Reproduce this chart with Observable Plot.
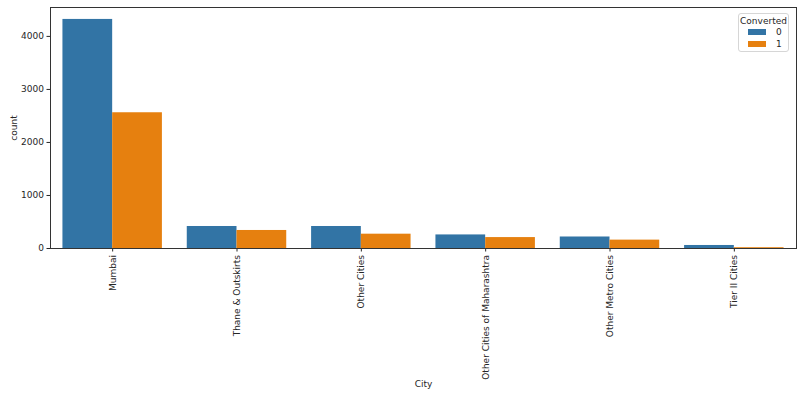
<!DOCTYPE html>
<html>
<head>
<meta charset="utf-8">
<script src="https://cdn.jsdelivr.net/npm/d3@7"></script>
<script src="https://cdn.jsdelivr.net/npm/@observablehq/plot@0.6"></script>
<style>
  body { margin: 0; background: #fff; }
  #wrap { position: relative; width: 799px; height: 395px; font-family: "DejaVu Sans", sans-serif; }
  #legend { position: absolute; left: 738px; top: 13px; width: 51px; height: 39px; box-sizing: border-box;
            border: 1px solid #d6d6d6; border-radius: 3px; background: rgba(255,255,255,0.9); font-size: 9px; color: #262626; }
  #legend .t { text-align: center; margin-top: 2px; }
  #legend .r { display: flex; align-items: center; height: 12px; margin-left: 9px; }
  #legend .sw { width: 18px; height: 6px; margin-right: 10px; }
</style>
</head>
<body>
<div id="wrap"></div>
<script>
const cities = ["Mumbai", "Thane & Outskirts", "Other Cities", "Other Cities of Maharashtra", "Other Metro Cities", "Tier II Cities"];
const convertedKeys = ["0", "1"];
const count0 = [4320, 415, 415, 256, 217, 57];
const count1 = [2560, 340, 270, 206, 158, 15];
const colors = ["#3274a5", "#e6800f"];
const yTicks = [0, 1000, 2000, 3000, 4000];

const data = cities.flatMap((c, i) => [
  {city: c, i, k: 0, conv: convertedKeys[0], count: count0[i]},
  {city: c, i, k: 1, conv: convertedKeys[1], count: count1[i]}
]);

const W = 799, H = 395, mL = 50, mR = 3, mT = 7, mB = 147;

const plot = Plot.plot({
  width: W, height: H,
  marginLeft: mL, marginRight: mR, marginTop: mT, marginBottom: mB,
  style: {fontFamily: "DejaVu Sans, sans-serif", fontSize: "9px", color: "#262626", background: "#fff"},
  x: {domain: [0, cities.length]},
  y: {domain: [0, 4545]},
  color: {domain: convertedKeys, range: colors},
  marks: [
    Plot.rectY(data, {
      x1: d => d.i + 0.1 + d.k * 0.4,
      x2: d => d.i + 0.1 + (d.k + 1) * 0.4,
      y: "count",
      fill: "conv"
    }),
    Plot.axisY({ticks: yTicks, tickFormat: d => String(d), tickSize: 3.5, tickPadding: 3, label: "count", labelAnchor: "center", labelArrow: "none", labelOffset: 40}),
    Plot.axisX({
      ticks: cities.map((c, i) => i + 0.5),
      tickFormat: v => cities[Math.round(v - 0.5)],
      tickRotate: -90, tickSize: 3.5, tickPadding: 3,
      label: "City", labelAnchor: "center", labelArrow: "none", labelOffset: 138
    }),
    Plot.frame({stroke: "#333", strokeWidth: 1})
  ]
});

const wrap = document.getElementById("wrap");
wrap.appendChild(plot);

const legend = document.createElement("div");
legend.id = "legend";
legend.innerHTML = `<div class="t">Converted</div>` +
  convertedKeys.map((k, i) => `<div class="r"><span class="sw" style="background:${colors[i]}"></span>${k}</div>`).join("");
wrap.appendChild(legend);
</script>
</body>
</html>
